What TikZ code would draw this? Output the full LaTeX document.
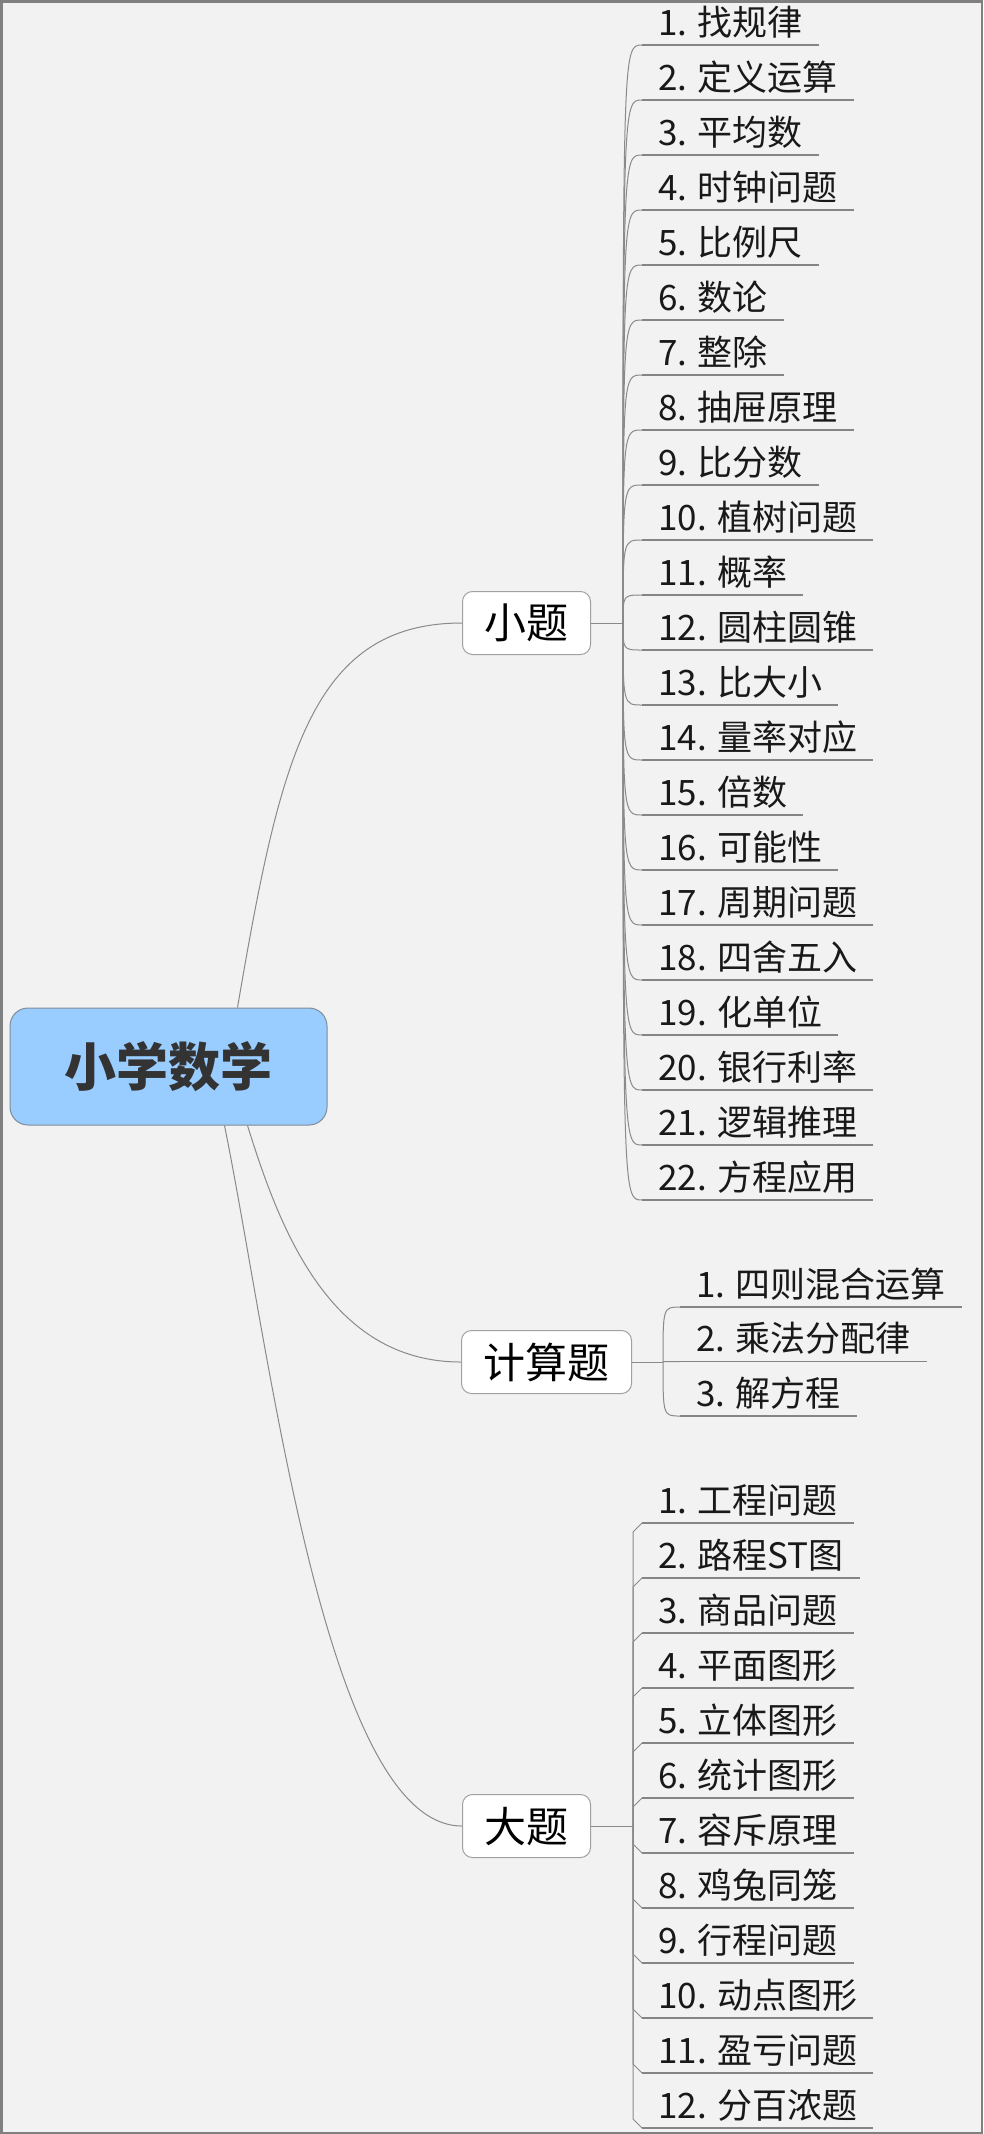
\documentclass[tikz,border=0pt]{standalone}
\usepackage{fontspec}
\setmainfont{Noto Sans CJK SC}
\usetikzlibrary{calc}
\definecolor{bg}{HTML}{F2F2F2}
\definecolor{frame}{HTML}{808080}
\definecolor{conncol}{HTML}{8A8A8A}
\definecolor{ulcol}{HTML}{858585}
\definecolor{nodeborder}{HTML}{A0A0A0}
\definecolor{rootfill}{HTML}{99CCFF}
\definecolor{rootborder}{HTML}{7F8C99}
\definecolor{roottext}{HTML}{333333}
\tikzset{
  leaf/.style={anchor=south west, inner xsep=16pt, inner ysep=0pt, text height=30pt, text depth=9.5pt, font=\fontsize{35pt}{40pt}\selectfont, text=black!90},
  mid/.style={draw=nodeborder, fill=white, rounded corners=10pt, anchor=west, inner xsep=22pt, inner ysep=0pt, minimum height=63pt, font=\fontsize{42pt}{48pt}\selectfont, line width=1pt},
  rootbox/.style={draw=rootborder, fill=rootfill, rounded corners=18pt, minimum width=317pt, minimum height=117pt, font=\fontsize{52pt}{60pt}\selectfont\bfseries, text=roottext, line width=1pt},
  conn/.style={draw=conncol, line width=1pt},
  uline/.style={draw=ulcol, line width=1.2pt}
}
\begin{document}
\begin{tikzpicture}[x=1pt, y=-1pt]
\useasboundingbox (0,0) rectangle (983,2134);
\fill[bg] (0,0) rectangle (983,2134);
\draw[frame, line width=2.5pt] (1.25,1.25) rectangle (981.75,2132.75);

% root
\node[rootbox] (root) at (168.5,1066.5) {小学数学};

% mid nodes
\node[mid] (xt) at (462,623) {小题};
\node[mid] (js) at (461,1362) {计算题};
\node[mid] (dt) at (462,1826) {大题};

% root connectors
\draw[conn] ($(root.north west)+(228,0)$) .. controls (280,760) and (310,623) .. (xt.west);
\draw[conn] ($(root.south west)+(238,0)$) .. controls (280,1230) and (330,1362) .. (js.west);
\draw[conn] ($(root.south west)+(215,0)$) .. controls (270,1350) and (325,1826) .. (dt.west);

% 小题 leaves
\coordinate (xtj) at (623,623);
\draw[conn] (xt.east) -- (xtj);
\foreach \t [count=\i] in {找规律,定义运算,平均数,时钟问题,比例尺,数论,整除,抽屉原理,比分数,植树问题,概率,圆柱圆锥,比大小,量率对应,倍数,可能性,周期问题,四舍五入,化单位,银行利率,逻辑推理,方程应用}{
  \node[leaf] (a\i) at (642,{45+55*(\i-1)}) {\i. \t};
  \draw[uline] (a\i.south west) -- (a\i.south east);
  \draw[conn] (xtj) .. controls (xtj |- a\i.south west) .. (a\i.south west);
}

% 计算题 leaves
\coordinate (jsj) at (663,1362);
\draw[conn] (js.east) -- (jsj);
\foreach \t [count=\i] in {四则混合运算,乘法分配律,解方程}{
  \node[leaf] (b\i) at (680,{1307+54.5*(\i-1)}) {\i. \t};
  \draw[uline] (b\i.south west) -- (b\i.south east);
  \draw[conn] (jsj) .. controls (jsj |- b\i.south west) .. (b\i.south west);
}

% 大题 leaves
\coordinate (dtj) at (633,1826);
\draw[conn] (dt.east) -- (dtj);
\foreach \t [count=\i] in {工程问题,路程ST图,商品问题,平面图形,立体图形,统计图形,容斥原理,鸡兔同笼,行程问题,动点图形,盈亏问题,分百浓题}{
  \node[leaf] (c\i) at (642,{1523+55*(\i-1)}) {\i. \t};
  \draw[uline] (c\i.south west) -- (c\i.south east);
  \pgfmathsetmacro{\dd}{ifthenelse(\i<7,9,-9)}
  \draw[conn] (dtj) -- ($(dtj |- c\i.south west)+(0,\dd)$) -- (c\i.south west);
}
\end{tikzpicture}
\end{document}
